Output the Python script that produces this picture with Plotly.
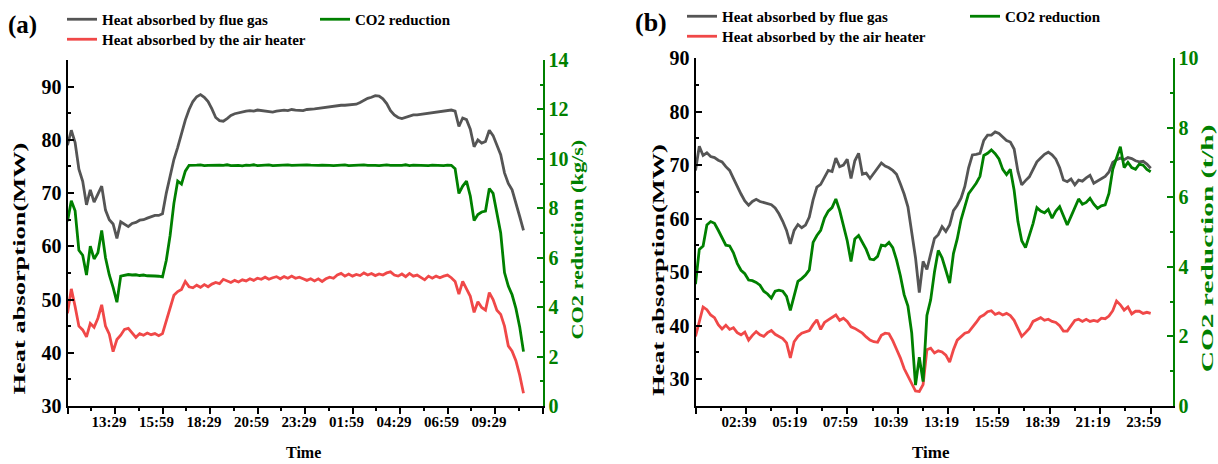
import json
import plotly.graph_objects as go

W, H = 1218, 464
SERIF = "Liberation Serif"
GAS_COLOR = "#555555"
AIR_COLOR = "#f04848"
CO2_COLOR = "#008000"

# ---------------- panel (a): readings every 0.2 h after 10:59 ----------------
a_gas = [79.0, 81.8, 79.5, 74.5, 72.2, 67.8, 70.6, 68.3, 69.8, 71.3,
         66.8, 65.0, 64.2, 61.5, 64.6, 64.1, 63.7, 64.3, 64.5, 64.9,
         65.0, 65.3, 65.5, 65.8, 65.8, 66.1, 70.0, 73.0, 76.3, 78.6,
         81.2, 83.7, 85.7, 87.2, 88.1, 88.5, 88.0, 87.2, 85.8, 84.2,
         83.6, 83.5, 84.0, 84.6, 84.9, 85.1, 85.3, 85.4, 85.5, 85.4,
         85.6, 85.5, 85.3, 85.3, 85.2, 85.4, 85.5, 85.6, 85.5, 85.7,
         85.6, 85.6, 85.5, 85.7, 85.7, 85.8, 85.9, 86.0, 86.1, 86.3,
         86.4, 86.4, 86.5, 86.5, 86.6, 86.6, 86.7, 87.0, 87.4, 87.8,
         88.0, 88.3, 88.2, 87.7, 86.8, 85.5, 84.7, 84.2, 84.0, 84.2,
         84.5, 84.7, 84.7, 84.8, 84.8, 84.9, 85.0, 85.1, 85.3, 85.4,
         85.5, 85.6, 85.4, 82.5, 84.1, 83.8, 82.0, 78.7, 80.0, 79.4,
         79.7, 81.8, 80.8, 79.0, 77.2, 73.8, 71.8, 70.6, 68.3, 65.6,
         63.0]

a_air = [47.4, 52.0, 48.7, 45.0, 44.3, 43.0, 45.5, 44.8, 46.5, 49.0,
         45.0, 43.5, 40.2, 42.5, 43.3, 44.4, 44.6, 43.8, 42.9, 43.6,
         43.3, 43.7, 43.4, 43.6, 43.2, 43.6, 46.0, 48.8, 50.8, 51.5,
         51.9, 53.4, 52.4, 52.2, 52.7, 52.3, 52.8, 52.4, 52.9, 53.2,
         53.0, 53.8, 53.5, 53.2, 53.6, 53.3, 53.7, 53.5, 53.9, 53.6,
         54.0, 53.8, 54.2, 53.8, 54.1, 54.3, 53.9, 54.3, 54.0, 54.4,
         54.0, 54.2, 53.9, 53.6, 53.9, 53.5, 53.9, 53.4, 53.9, 54.2,
         54.0, 54.6, 54.9, 54.4, 54.8, 54.4, 54.7, 54.5, 55.0, 54.6,
         54.9, 54.5, 54.8, 54.6, 55.0, 55.2, 54.6, 54.4, 54.8, 54.3,
         54.9, 54.4, 54.6, 54.1, 53.7, 54.4, 54.0, 54.4, 54.1, 54.4,
         54.6, 54.1, 53.4, 51.0, 53.4, 52.0, 50.6, 47.6, 49.6, 48.5,
         48.0, 51.3, 50.0, 48.0, 47.2, 45.0, 41.3, 40.3, 38.5, 35.8,
         32.4]

a_co2 = [7.48, 8.30, 7.90, 6.30, 6.10, 5.30, 6.47, 5.95, 6.20, 7.10,
         6.00, 5.30, 4.80, 4.20, 5.25, 5.30, 5.32, 5.30, 5.31, 5.28,
         5.30, 5.27, 5.28, 5.26, 5.25, 5.22, 5.90, 6.90, 8.20, 9.10,
         8.98, 9.50, 9.74, 9.73, 9.75, 9.76, 9.73, 9.74, 9.75, 9.73,
         9.75, 9.74, 9.76, 9.73, 9.75, 9.74, 9.72, 9.75, 9.74, 9.76,
         9.73, 9.75, 9.74, 9.76, 9.73, 9.74, 9.75, 9.73, 9.76, 9.74,
         9.75, 9.73, 9.74, 9.76, 9.75, 9.73, 9.74, 9.75, 9.76, 9.74,
         9.73, 9.75, 9.74, 9.76, 9.73, 9.74, 9.75, 9.73, 9.76, 9.74,
         9.75, 9.74, 9.73, 9.75, 9.76, 9.74, 9.73, 9.75, 9.74, 9.76,
         9.73, 9.75, 9.74, 9.76, 9.74, 9.73, 9.75, 9.74, 9.76, 9.73,
         9.75, 9.74, 9.60, 8.60, 8.90, 9.10, 8.50, 7.50, 7.75, 7.85,
         7.89, 8.80, 8.60, 7.80, 7.00, 5.40, 4.85, 4.50, 3.95, 3.20,
         2.20]

a_tick_vals = [0, 2.5, 5, 7.5, 10, 12.5, 15, 17.5, 20, 22.5, 25]
a_tick_text = ["", "13:29", "15:59", "18:29", "20:59", "23:29", "01:59", "04:29", "06:59", "09:29", ""]

# ---------------- panel (b): readings every 0.2 h after 23:59 ----------------
b_gas = [69.0, 73.5, 71.8, 72.3, 71.6, 71.4, 70.9, 70.6, 69.7, 69.0,
         67.5, 65.9, 64.6, 63.3, 62.5, 63.2, 63.6, 63.2, 63.0, 62.9,
         62.6, 62.0, 60.9, 59.5, 57.8, 55.3, 57.8, 58.9, 58.3, 58.8,
         60.3, 63.5, 65.9, 66.4, 67.6, 69.0, 68.8, 71.3, 69.7, 70.0,
         71.1, 67.5, 70.8, 72.2, 68.3, 68.5, 67.5, 68.4, 69.5, 70.4,
         69.8, 69.5, 69.0, 68.3, 66.5, 64.6, 62.2, 57.8, 52.7, 46.2,
         52.0, 50.5, 53.5, 56.3, 57.0, 58.5, 57.6, 58.8, 61.5, 62.5,
         63.8, 66.0, 69.5, 71.9, 72.0, 72.2, 74.6, 75.6, 75.6, 76.2,
         75.9, 75.2, 74.6, 74.3, 73.0, 68.8, 66.3, 67.1, 67.8, 69.2,
         70.6, 71.3, 72.0, 72.4, 71.9, 71.1, 69.5, 67.2, 66.9, 67.4,
         66.3, 67.2, 67.0, 67.6, 68.1, 66.6, 67.0, 67.4, 67.9, 68.7,
         70.5, 71.0, 71.3, 71.0, 71.4, 71.2, 70.8, 70.6, 70.7, 70.2,
         69.4]

b_air = [38.0, 40.5, 43.5, 43.0, 42.0, 41.5, 40.2, 39.4, 40.1, 39.3,
         39.6, 38.7, 38.3, 38.8, 37.3, 38.2, 38.9, 38.3, 38.0, 38.7,
         39.1, 38.4, 38.0, 37.6, 36.8, 34.0, 37.0, 38.0, 38.6, 38.8,
         39.1, 40.2, 41.1, 39.3, 40.6, 41.1, 41.5, 42.0, 41.0, 41.4,
         40.8, 39.8, 39.5, 39.1, 38.6, 37.9, 37.3, 37.0, 36.9, 38.2,
         38.6, 38.5, 37.2, 35.6, 34.0, 32.0, 30.5, 29.3, 27.8, 27.7,
         29.0, 35.5, 35.8, 34.9, 35.3, 35.1, 34.5, 33.2, 35.5, 37.3,
         38.0, 38.6, 38.8, 39.6, 40.6, 41.6, 42.0, 42.6, 42.8, 42.1,
         42.4, 42.0, 42.3, 41.9, 41.0, 39.5, 38.0, 38.7, 39.5, 40.8,
         41.1, 41.5, 41.0, 41.2, 40.8, 40.6, 40.0, 39.0, 39.0, 40.0,
         41.0, 41.2, 40.8, 41.2, 40.8, 41.0, 40.8, 41.4, 41.3, 41.8,
         42.8, 44.6, 43.9, 42.9, 43.5, 42.2, 42.7, 42.7, 42.3, 42.5,
         42.3]

b_co2 = [3.50, 4.50, 4.60, 5.20, 5.30, 5.25, 5.05, 4.85, 4.62, 4.60,
         4.40, 4.10, 3.90, 3.80, 3.62, 3.60, 3.55, 3.47, 3.30, 3.22,
         3.10, 3.30, 3.33, 3.30, 3.15, 2.75, 3.20, 3.58, 3.66, 3.76,
         3.91, 4.70, 4.90, 5.05, 5.40, 5.60, 5.70, 5.95, 5.62, 5.20,
         4.75, 4.15, 4.80, 4.90, 4.72, 4.50, 4.22, 4.20, 4.30, 4.62,
         4.60, 4.70, 4.55, 4.20, 3.75, 3.20, 2.87, 2.10, 0.60, 1.40,
         0.70, 2.60, 3.05, 3.85, 4.47, 4.26, 3.90, 3.53, 4.38, 4.80,
         5.35, 5.70, 6.10, 6.25, 6.40, 6.60, 7.20, 7.26, 7.36, 7.25,
         7.10, 6.80, 6.65, 6.80, 6.20, 5.30, 4.75, 4.55, 4.90, 5.25,
         5.70, 5.60, 5.55, 5.65, 5.40, 5.60, 5.73, 5.45, 5.20, 5.45,
         5.70, 5.95, 5.80, 5.85, 5.97, 5.80, 5.68, 5.75, 5.78, 6.11,
         6.80, 7.16, 7.45, 6.85, 7.00, 6.85, 6.80, 6.95, 6.92, 6.80,
         6.73]

b_tick_vals = [0, 2.6667, 5.3333, 8, 10.6667, 13.3333, 16, 18.6667, 21.3333, 24]
b_tick_text = ["", "02:39", "05:19", "07:59", "10:39", "13:19", "15:59", "18:39", "21:19", "23:59"]

STEP_H = 0.2
for series in (a_gas, a_air, a_co2, b_gas, b_air, b_co2):
    assert len(series) == 121
a_time = [round(i * STEP_H, 1) for i in range(len(a_gas))]
b_time = [round(i * STEP_H, 1) for i in range(len(b_gas))]


# ---------------- layout helpers (pixel -> paper) ----------------
def px(x):
    return x / W


def py(y):
    return 1 - y / H


def tick_font(size, color="black"):
    return dict(family=SERIF, size=size, color=color, weight="bold")


def time_axis(domain, anchor, rng, vals, text, minor_step, shift):
    return dict(
        domain=domain, anchor=anchor, range=rng, showgrid=False, zeroline=False,
        automargin=False, showline=True, linecolor="black", linewidth=2,
        ticks="outside", ticklen=6, tickwidth=2, tickcolor="black",
        tickmode="array", tickvals=vals, ticktext=text, tickfont=tick_font(15),
        ticklabelstandoff=-5, ticklabelshift=shift,
        minor=dict(ticks="outside", ticklen=3, tickwidth=2, tickcolor="black",
                   tickmode="linear", tick0=0, dtick=minor_step, showgrid=False),
    )


def value_axis(rng, dtick, tick0, minor_step, color, **kw):
    ax = dict(
        range=rng, showgrid=False, zeroline=False, automargin=False,
        showline=True, linecolor=color, linewidth=2,
        ticks="inside", ticklen=6, tickwidth=2, tickcolor=color,
        tickmode="linear", tick0=tick0, dtick=dtick, tickfont=tick_font(20, color),
        minor=dict(ticks="inside", ticklen=3, tickwidth=2, tickcolor=color,
                   tickmode="linear", tick0=tick0, dtick=minor_step, showgrid=False),
    )
    ax.update(kw)
    return ax


fig = go.Figure()

line_w = 2.8
series_specs = [
    (a_time, a_gas, "Heat absorbed by flue gas", GAS_COLOR, "x", "y", "legend"),
    (a_time, a_air, "Heat absorbed by the air heater", AIR_COLOR, "x", "y", "legend2"),
    (a_time, a_co2, "CO2 reduction", CO2_COLOR, "x", "y2", "legend3"),
    (b_time, b_gas, "Heat absorbed by flue gas", GAS_COLOR, "x2", "y3", "legend4"),
    (b_time, b_air, "Heat absorbed by the air heater", AIR_COLOR, "x2", "y3", "legend5"),
    (b_time, b_co2, "CO2 reduction", CO2_COLOR, "x2", "y4", "legend6"),
]
for t, v, name, color, xa, ya, leg in series_specs:
    fig.add_trace(go.Scatter(x=t, y=v, mode="lines", name=name,
                             line=dict(color=color, width=line_w),
                             xaxis=xa, yaxis=ya, legend=leg))

legend_font = dict(family=SERIF, size=15, color="black", weight="bold")


def legend_box(x, y):
    return dict(x=px(x), y=py(y), xanchor="left", yanchor="top", orientation="v",
                font=legend_font, bgcolor="rgba(0,0,0,0)", borderwidth=0,
                itemwidth=30, tracegroupgap=0)


def label(text, x, y, size, color="black", angle=0):
    return dict(text=text, x=px(x), y=py(y), xref="paper", yref="paper",
                xanchor="center", yanchor="middle", showarrow=False, textangle=angle,
                font=dict(family=SERIF, size=size, color=color, weight="bold"))


fig.update_layout(
    template="none",
    width=W, height=H, margin=dict(l=0, r=0, t=0, b=0, autoexpand=False),
    paper_bgcolor="white", plot_bgcolor="white", showlegend=True,
    xaxis=time_axis([px(67.5), px(542.5)], "y", [0, 25], a_tick_vals, a_tick_text, 1.25, -6),
    yaxis=value_axis([30, 95], 10, 30, 5, "black",
                     domain=[py(406), py(60)], anchor="x"),
    yaxis2=value_axis([0, 14], 2, 0, 1, CO2_COLOR,
                      overlaying="y", side="right", anchor="x"),
    xaxis2=time_axis([px(695.5), px(1172.5)], "y3", [0, 25.15], b_tick_vals, b_tick_text, 4 / 3, -7),
    yaxis3=value_axis([25, 90], 10, 30, 5, "black",
                      domain=[py(406), py(58)], anchor="x2"),
    yaxis4=value_axis([0, 10], 2, 0, 1, CO2_COLOR,
                      overlaying="y3", side="right", anchor="x2"),
    legend=legend_box(62, 3),
    legend2=legend_box(62, 23),
    legend3=legend_box(315, 3),
    legend4=legend_box(682, 0),
    legend5=legend_box(682, 20),
    legend6=legend_box(965, 0),
    annotations=[
        label("(a)", 22.5, 25, 25),
        label("(b)", 651, 23, 26),
        label("Time", 303, 452, 16),
        label("Time", 931, 452, 17),
        label("Heat absorption(MW)", 19.5, 269, 17, angle=-90),
        label("CO2 reduction (kg/s)", 577, 240, 17, CO2_COLOR, angle=-90),
        label("Heat absorption(MW)", 658, 270, 17, angle=-90),
        label("CO2 reduction (t/h)", 1207, 249, 17, CO2_COLOR, angle=-90),
    ],
)

# rotated axis titles are drawn elongated along their baseline
title_lengths = {
    "Heat absorption(MW)": 252,
    "CO2 reduction (kg/s)": 200,
    "CO2 reduction (t/h)": 248,
}
stretch_js = """
var gd = document.getElementById('{plot_id}');
var targets = TARGETS;
function stretchTitles() {
  gd.querySelectorAll('text.annotation-text').forEach(function (t) {
    var want = targets[t.textContent];
    if (!want) { return; }
    t.style.transform = '';
    var have = t.getComputedTextLength();
    if (!have) { return; }
    t.style.transformBox = 'fill-box';
    t.style.transformOrigin = 'center';
    t.style.transform = 'scaleX(' + (want / have) + ')';
  });
}
stretchTitles();
gd.on('plotly_afterplot', stretchTitles);
""".replace("TARGETS", json.dumps(title_lengths))

fig.write_html("out.html", post_script=stretch_js)
